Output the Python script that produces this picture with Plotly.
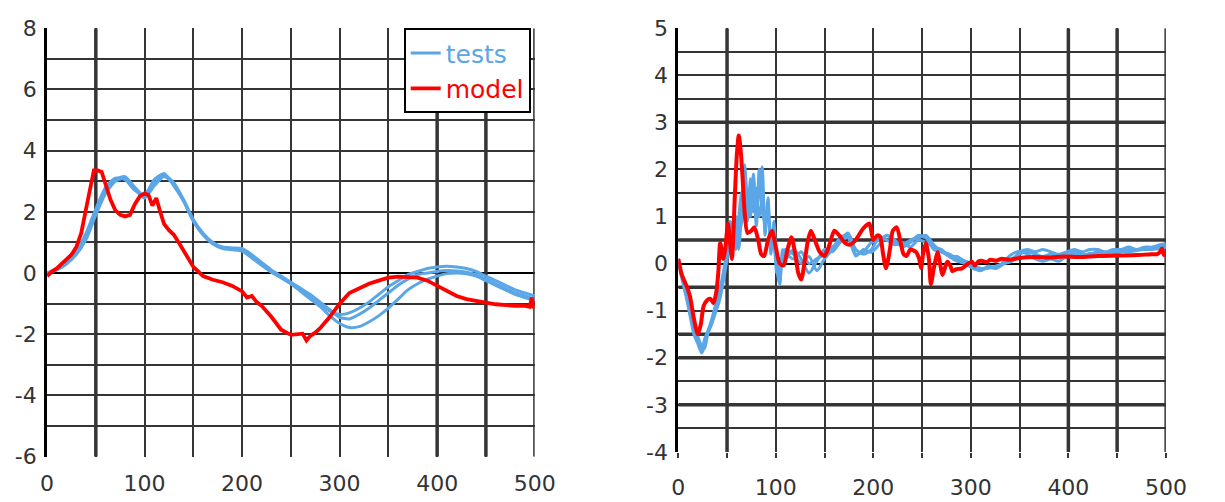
import plotly.graph_objects as go

# ---------------- Left chart data ----------------
left_test_x = [0, 10, 20, 30, 40, 50, 60, 70, 80, 90, 100, 110, 120, 130, 140, 150, 160, 170, 180, 190,
               200, 210, 220, 230, 240, 250, 260, 270, 280, 290, 300, 310, 320, 330, 340, 350, 360, 370,
               380, 390, 400, 410, 420, 430, 440, 450, 460, 470, 480, 490, 500]
left_test1 = [0, 0.15, 0.35, 0.7, 1.3, 2.1, 2.8, 3.1, 3.05, 2.7, 2.55, 3.05, 3.25, 2.85, 2.35, 1.7, 1.25, 0.98, 0.82, 0.8,
              0.75, 0.5, 0.25, 0.03, -0.15, -0.35, -0.55, -0.75, -1.0, -1.25, -1.35, -1.3, -1.15, -0.95, -0.7,
              -0.45, -0.25, -0.05, 0.05, 0.15, 0.2, 0.22, 0.2, 0.15, 0.05, -0.1, -0.25, -0.4, -0.55, -0.65, -0.75]
left_test2 = [0, 0.1, 0.3, 0.65, 1.2, 2.0, 2.7, 3.05, 3.15, 2.8, 2.5, 2.9, 3.2, 2.95, 2.4, 1.75, 1.3, 1.0, 0.85, 0.82,
              0.8, 0.6, 0.35, 0.1, -0.1, -0.3, -0.5, -0.7, -0.95, -1.2, -1.45, -1.5, -1.35, -1.15, -0.9,
              -0.65, -0.4, -0.2, -0.05, 0.0, 0.05, 0.08, 0.07, 0.03, -0.05, -0.2, -0.35, -0.5, -0.65, -0.75, -0.85]
left_test3 = [0, 0.1, 0.3, 0.6, 1.1, 1.9, 2.6, 3.0, 3.1, 2.75, 2.45, 2.85, 3.15, 2.9, 2.35, 1.7, 1.25, 0.95, 0.8, 0.76,
              0.72, 0.5, 0.28, 0.05, -0.15, -0.35, -0.6, -0.85, -1.1, -1.4, -1.65, -1.78, -1.75, -1.6, -1.4,
              -1.15, -0.85, -0.55, -0.35, -0.2, -0.1, -0.02, 0.0, -0.02, -0.1, -0.25, -0.4, -0.55, -0.7, -0.8, -0.9]

left_model_x = [0, 5, 10, 15, 20, 25, 30, 35, 40, 45, 48, 52, 56, 60, 65, 70, 75, 80, 85, 90,
                95, 100, 104, 108, 112, 116, 120, 125, 130, 135, 140, 145, 150, 155, 160, 170, 180, 190, 200, 205,
                210, 215, 220, 230, 240, 250, 258, 262, 266, 270, 275, 280, 290, 300, 310, 320, 330, 340, 350, 360,
                370, 380, 390, 400, 410, 420, 430, 440, 450, 460, 470, 480, 490, 495, 497, 499, 500]
left_model_y = [-0.1, 0.05, 0.15, 0.3, 0.45, 0.6, 0.85, 1.3, 2.1, 2.9, 3.35, 3.35, 3.3, 2.9, 2.4, 2.05, 1.9, 1.85, 1.9, 2.25,
                2.5, 2.6, 2.55, 2.2, 2.45, 2.0, 1.6, 1.4, 1.25, 1.0, 0.75, 0.5, 0.2, 0.05, -0.1, -0.22, -0.3, -0.42, -0.6, -0.8,
                -0.75, -0.95, -1.07, -1.43, -1.85, -2.02, -2.0, -1.98, -2.2, -2.05, -1.95, -1.8, -1.43, -1.0, -0.65, -0.5, -0.35, -0.25, -0.15, -0.12,
                -0.12, -0.15, -0.25, -0.42, -0.6, -0.75, -0.85, -0.92, -0.97, -1.02, -1.05, -1.07, -1.07, -1.1, -0.8, -1.15, -0.9]

left_x_ticks = [0, 100, 200, 300, 400, 500]
left_y_ticks = [-6, -4, -2, 0, 2, 4, 6, 8]

# ---------------- Right chart data ----------------
right_test_x = [0, 4, 8, 12, 16, 20, 24, 27, 30, 34, 38, 42, 46, 50, 53, 56, 59, 62, 65, 68, 71, 74, 77, 80, 83, 86,
                89, 92, 95, 98, 101, 104, 107, 110,
                118, 126, 134, 142, 150, 158, 166, 174, 182, 190, 198, 206, 214, 222, 230, 238, 246, 254, 262, 270,
                278, 286, 294, 302, 310, 318, 326, 334, 342, 350, 358, 366, 374, 382, 390, 398, 406, 414, 422, 430,
                438, 446, 454, 462, 470, 478, 486, 494, 500]
right_test1 = [0.1, -0.3, -0.6, -1.0, -1.4, -1.6, -1.85, -1.6, -1.45, -1.2, -0.9, -0.6, -0.2, 0.3, 0.9, 0.5, 0.8, 0.3,
               1.2, 2.1, 1.3, 1.0, 1.9, 1.2, 1.5, 2.05, 0.6, 1.4, 0.2, 0.9, -0.1, -0.45, 0.2, 0.3,
               0.2, 0.0, 0.15, -0.15, 0.1, 0.3, 0.55, 0.6, 0.2, 0.25, 0.45, 0.5, 0.6, 0.45, 0.4, 0.5, 0.55, 0.6, 0.4, 0.25,
               0.2, 0.1, 0.05, -0.05, -0.1, -0.1, -0.05, 0.0, 0.05, 0.25, 0.3, 0.25, 0.3, 0.25, 0.2, 0.25, 0.3, 0.25, 0.3, 0.3,
               0.25, 0.3, 0.3, 0.35, 0.3, 0.35, 0.35, 0.4, 0.42]
right_test2 = [0.05, -0.35, -0.7, -1.1, -1.5, -1.7, -1.9, -1.75, -1.5, -1.25, -1.0, -0.65, -0.3, 0.2, 0.7, 0.9, 0.3, 1.0,
               1.5, 1.6, 0.9, 1.8, 1.1, 1.6, 1.0, 1.3, 0.8, 1.0, 0.5, 0.4, -0.2, 0.1, 0.0, 0.2,
               0.1, 0.25, 0.0, 0.1, 0.2, 0.35, 0.5, 0.65, 0.3, 0.2, 0.3, 0.55, 0.5, 0.4, 0.45, 0.35, 0.5, 0.45, 0.35, 0.3,
               0.15, 0.05, 0.0, -0.1, -0.15, -0.05, -0.1, 0.0, 0.1, 0.2, 0.25, 0.2, 0.15, 0.2, 0.15, 0.2, 0.25, 0.2, 0.2, 0.25,
               0.2, 0.25, 0.25, 0.3, 0.3, 0.3, 0.35, 0.35, 0.38]
right_test3 = [0.1, -0.25, -0.55, -0.9, -1.3, -1.55, -1.75, -1.8, -1.5, -1.3, -1.05, -0.8, -0.4, 0.1, 0.6, 0.4, 1.0, 0.6,
               0.9, 1.7, 1.0, 1.4, 1.6, 0.8, 2.0, 1.1, 0.9, 1.2, 0.3, 0.6, 0.0, -0.3, 0.3, 0.1,
               0.3, 0.1, -0.2, 0.05, 0.3, 0.25, 0.45, 0.55, 0.16, 0.3, 0.24, 0.4, 0.6, 0.5, 0.35, 0.45, 0.6, 0.55, 0.3, 0.25,
               0.15, 0.15, 0.05, 0.0, -0.14, -0.08, -0.1, 0.05, 0.2, 0.26, 0.2, 0.1, 0.05, 0.1, 0.05, 0.15, 0.2, 0.15, 0.22, 0.2,
               0.22, 0.2, 0.25, 0.25, 0.28, 0.3, 0.3, 0.32, 0.35]

right_model_x = [0, 3, 6, 9, 12, 16, 20, 23, 26, 30, 33, 36, 39, 41, 43, 46, 48, 51, 53, 55,
                 58, 60, 62, 64, 66, 68, 71, 75, 78, 82, 85, 88, 92, 96, 100, 104, 108, 112, 116, 120,
                 123, 126, 130, 133, 136, 140, 145, 150, 155, 160, 165, 171, 176, 182, 188, 192, 196, 200, 204, 207,
                 210, 213, 217, 220, 224, 228, 231, 234, 238, 241, 244, 247, 249, 251, 254, 257, 259, 262, 266, 268,
                 271, 274, 276, 279, 281, 285, 291, 296, 301, 304, 308, 311, 316, 320, 326, 331, 340, 350, 364, 380,
                 395, 411, 430, 450, 470, 485, 491, 494, 496, 498, 500]
right_model_y = [0.1, -0.2, -0.36, -0.5, -0.7, -1.17, -1.5, -1.3, -0.9, -0.77, -0.75, -0.84, -0.6, -0.2, 0.44, 0.1, 0.3, 0.85, 0.45, 0.1,
                 1.45, 2.3, 2.72, 2.4, 1.8, 1.1, 0.65, 0.7, 0.77, 0.5, 0.2, 0.16, 0.5, 0.7, 0.35, 0.0, -0.04, 0.3, 0.56, 0.2,
                 -0.2, -0.34, 0.1, 0.5, 0.7, 0.5, 0.25, 0.16, 0.4, 0.7, 0.6, 0.44, 0.4, 0.5, 0.7, 0.8, 0.85, 0.5, 0.6, 0.57,
                 0.2, -0.1, 0.3, 0.7, 0.77, 0.45, 0.2, 0.16, 0.3, 0.28, 0.24, 0.1, -0.1, 0.2, 0.44, 0.1, -0.44, -0.1, 0.24, 0.05,
                 -0.24, -0.05, 0.04, -0.05, -0.16, -0.12, -0.1, -0.02, 0.04, -0.04, 0.05, 0.06, 0.03, 0.08, 0.06, 0.1, 0.08, 0.12, 0.14, 0.13,
                 0.15, 0.14, 0.16, 0.17, 0.18, 0.2, 0.2, 0.25, 0.32, 0.18, 0.22]

right_x_ticks = [0, 100, 200, 300, 400, 500]
right_y_ticks = [-4, -3, -2, -1, 0, 1, 2, 3, 4, 5]

BLUE = "#5ba6e6"
RED = "#ff0000"
GRID = "#353535"
FONT = "DejaVu Sans"

fig = go.Figure()

for i, ys in enumerate([left_test1, left_test2, left_test3]):
    fig.add_trace(go.Scatter(x=left_test_x, y=ys, mode="lines", line=dict(color=BLUE, width=3, shape="spline", smoothing=0.6),
                             name="<span style='color:%s'>tests</span>" % BLUE, legendgroup="tests",
                             showlegend=(i == 0), xaxis="x", yaxis="y"))
fig.add_trace(go.Scatter(x=left_model_x, y=left_model_y, mode="lines", line=dict(color=RED, width=3.8),
                         name="<span style='color:%s'>model</span>" % RED, legendgroup="model",
                         showlegend=True, xaxis="x", yaxis="y"))

for ys in [right_test1, right_test2, right_test3]:
    fig.add_trace(go.Scatter(x=right_test_x, y=ys, mode="lines",
                             line=dict(color=BLUE, width=3, shape="spline", smoothing=0.7),
                             showlegend=False, xaxis="x2", yaxis="y2"))
fig.add_trace(go.Scatter(x=right_model_x, y=right_model_y, mode="lines",
                         line=dict(color=RED, width=4, shape="spline", smoothing=0.7),
                         showlegend=False, xaxis="x2", yaxis="y2"))

W, H = 1225, 502
tickfont = dict(family=FONT, size=22, color="#333333")

def labels(vals):
    return [str(v) for v in vals]

def xax(domain, anchor, ticks, tickvals):
    return dict(domain=domain, anchor=anchor, range=[0, 500], tickmode="array",
                tickvals=tickvals, ticktext=labels(tickvals),
                showgrid=True, gridcolor=GRID, gridwidth=2.2, zeroline=False, showline=False,
                ticks=ticks, ticklen=5, tickwidth=2, tickcolor=GRID, ticklabelstandoff=11,
                minor=dict(tickmode="linear", tick0=0, dtick=50, showgrid=True, gridcolor=GRID, gridwidth=2.2,
                           ticks=ticks, ticklen=5, tickwidth=2, tickcolor=GRID),
                tickfont=tickfont, fixedrange=True)

def yax(domain, anchor, rng, tickvals, mdtick):
    return dict(domain=domain, anchor=anchor, range=rng, tickmode="array",
                tickvals=tickvals, ticktext=labels(tickvals),
                showgrid=True, gridcolor=GRID, gridwidth=2.2,
                minor=dict(tickmode="linear", tick0=rng[0], dtick=mdtick, showgrid=True, gridcolor=GRID, gridwidth=2.2),
                zeroline=True, zerolinecolor="#000000", zerolinewidth=1.5,
                showline=True, linecolor="#000000", linewidth=3, ticks="", ticklabelstandoff=3,
                tickfont=tickfont, fixedrange=True)

shapes = []
def vline(xref, yref, xv, y0, y1, w):
    shapes.append(dict(type="line", xref=xref, yref=yref, x0=xv, x1=xv, y0=y0, y1=y1,
                       line=dict(color=GRID, width=w), layer="between"))
def hline(xref, yref, yv, w):
    shapes.append(dict(type="line", xref=xref, yref=yref, x0=0, x1=500, y0=yv, y1=yv,
                       line=dict(color=GRID, width=w), layer="between"))

for xv in [50, 400, 450]:
    vline("x", "y", xv, -6, 8, 3.5)
vline("x", "y", 500, -6, 8, 3)
for xv in [50, 400, 450]:
    vline("x2", "y2", xv, -4, 5, 3.5)
vline("x2", "y2", 500, -4, 5, 3)
for yv in [3, 0.5, -0.5, -1.5, -2, -3]:
    hline("x2", "y2", yv, 3.5)

fig.update_layout(
    width=W, height=H,
    margin=dict(l=0, r=0, t=0, b=0),
    paper_bgcolor="white", plot_bgcolor="white",
    xaxis=xax([41 / W, 540 / W], "y", "", left_x_ticks),
    yaxis=yax([1 - 468 / H, 1 - 17 / H], "x", [-6, 8], left_y_ticks, 1),
    xaxis2=xax([687 / W, 1186 / W], "y2", "outside", right_x_ticks),
    yaxis2=yax([1 - 463 / H, 1 - 17 / H], "x2", [-4, 5], right_y_ticks, 0.5),
    shapes=shapes,
    showlegend=True,
    legend=dict(x=406 / W, y=1 - 17 / H, xanchor="left", yanchor="top",
                bgcolor="white", bordercolor="#000000", borderwidth=2,
                font=dict(family=FONT, size=25, color="#000000"),
                itemwidth=30, tracegroupgap=0),
)

fig.write_html("out.html")
